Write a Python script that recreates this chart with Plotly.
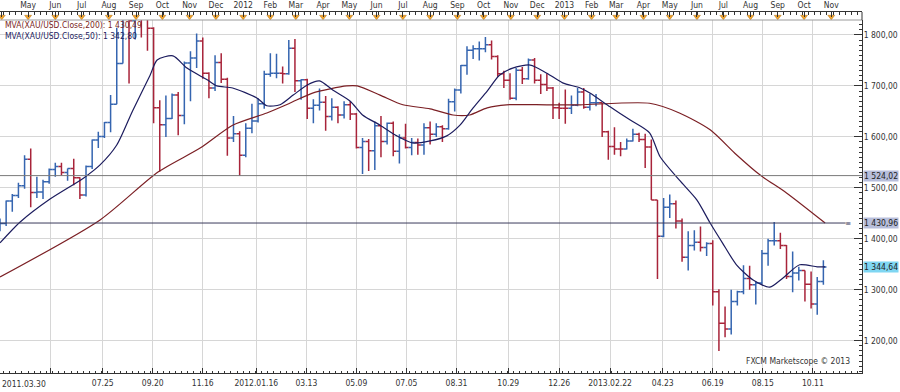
import pandas as pd
import plotly.graph_objects as go

# ---------------- data ----------------
# weekly OHLC of XAU/USD, first week starts 2011-03-28
OPEN = [1425, 1430, 1474, 1485, 1504, 1556, 1491, 1492, 1512, 1536, 1542, 1530, 1538, 1520, 1486, 1542, 1594, 1601, 1628, 1664,
        1744, 1852, 1828, 1876, 1856, 1813, 1657, 1624, 1636, 1682, 1642, 1745, 1755, 1788, 1725, 1696, 1746, 1713, 1598, 1606,
        1564, 1617, 1631, 1665, 1723, 1725, 1725, 1724, 1774, 1710, 1712, 1656, 1662, 1668, 1640, 1658, 1643, 1663, 1645, 1579,
        1591, 1573, 1622, 1591, 1627, 1572, 1598, 1579, 1589, 1584, 1618, 1605, 1620, 1616, 1669, 1692, 1740, 1770, 1773, 1773,
        1781, 1758, 1724, 1711, 1676, 1731, 1714, 1751, 1711, 1703, 1696, 1657, 1656, 1656, 1662, 1688, 1658, 1667, 1667, 1610,
        1581, 1576, 1576, 1592, 1605, 1595, 1580, 1476, 1405, 1462, 1469, 1435, 1364, 1387, 1393, 1383, 1391, 1296, 1234, 1223,
        1277, 1296, 1322, 1310, 1313, 1371, 1396, 1396, 1387, 1326, 1333, 1338, 1311, 1272, 1316]
HIGH = [1440, 1475, 1488, 1510, 1564, 1577, 1522, 1516, 1538, 1549, 1549, 1538, 1557, 1521, 1544, 1595, 1610, 1629, 1682, 1814,
        1877, 1912, 1892, 1921, 1857, 1815, 1672, 1681, 1685, 1688, 1748, 1768, 1803, 1795, 1727, 1760, 1764, 1716, 1641, 1611,
        1627, 1665, 1676, 1730, 1764, 1763, 1738, 1790, 1792, 1713, 1714, 1674, 1695, 1680, 1676, 1660, 1670, 1670, 1647, 1598,
        1596, 1630, 1641, 1628, 1630, 1605, 1626, 1598, 1597, 1627, 1630, 1627, 1623, 1675, 1695, 1741, 1778, 1780, 1787, 1796,
        1789, 1760, 1730, 1725, 1735, 1737, 1754, 1755, 1723, 1725, 1698, 1667, 1693, 1681, 1696, 1696, 1685, 1684, 1667, 1612,
        1619, 1590, 1597, 1616, 1608, 1606, 1595, 1476, 1480, 1487, 1475, 1440, 1415, 1417, 1424, 1393, 1397, 1301, 1267, 1300,
        1298, 1348, 1347, 1316, 1378, 1400, 1433, 1412, 1388, 1375, 1345, 1338, 1336, 1325, 1358]
LOW = [1415, 1425, 1453, 1480, 1498, 1462, 1480, 1478, 1508, 1522, 1524, 1514, 1505, 1478, 1483, 1537, 1578, 1598, 1609, 1664,
       1744, 1705, 1791, 1795, 1769, 1627, 1532, 1600, 1635, 1603, 1625, 1670, 1735, 1714, 1676, 1690, 1706, 1563, 1590, 1523,
       1560, 1607, 1628, 1655, 1718, 1715, 1705, 1722, 1688, 1673, 1635, 1627, 1652, 1612, 1632, 1627, 1636, 1633, 1577, 1527,
       1533, 1535, 1560, 1585, 1562, 1548, 1577, 1564, 1565, 1565, 1585, 1600, 1590, 1614, 1650, 1685, 1722, 1753, 1750, 1766,
       1752, 1718, 1696, 1673, 1672, 1704, 1712, 1705, 1684, 1690, 1635, 1635, 1626, 1645, 1660, 1655, 1652, 1660, 1600, 1555,
       1565, 1562, 1575, 1591, 1590, 1539, 1476, 1321, 1403, 1441, 1420, 1355, 1338, 1377, 1375, 1366, 1269, 1180, 1207, 1212,
       1269, 1291, 1300, 1271, 1311, 1347, 1387, 1380, 1321, 1295, 1318, 1277, 1263, 1251, 1310]
CLOSE = [1430, 1474, 1485, 1504, 1556, 1491, 1492, 1512, 1536, 1542, 1530, 1538, 1520, 1486, 1542, 1594, 1601, 1628, 1664, 1744,
         1852, 1828, 1876, 1856, 1813, 1657, 1624, 1636, 1682, 1642, 1745, 1755, 1788, 1725, 1696, 1746, 1713, 1598, 1606, 1564,
         1617, 1631, 1665, 1723, 1725, 1725, 1724, 1774, 1710, 1712, 1656, 1662, 1668, 1640, 1658, 1643, 1663, 1645, 1579, 1591,
         1573, 1622, 1591, 1627, 1572, 1598, 1579, 1589, 1584, 1618, 1605, 1620, 1616, 1669, 1692, 1740, 1770, 1773, 1773, 1781,
         1758, 1724, 1711, 1676, 1731, 1714, 1751, 1711, 1703, 1696, 1657, 1656, 1656, 1662, 1688, 1658, 1667, 1667, 1610, 1581,
         1576, 1576, 1592, 1605, 1595, 1580, 1476, 1405, 1462, 1469, 1435, 1364, 1387, 1393, 1383, 1391, 1296, 1234, 1223, 1277,
         1296, 1322, 1310, 1313, 1371, 1396, 1396, 1387, 1326, 1333, 1338, 1311, 1272, 1316, 1344.64]
FIRST_WEEK = "2011-03-28"

MA200_DATES = ["2011-03-30", "2011-07-22", "2011-09-26", "2011-11-13", "2011-12-20", "2012-01-28", "2012-02-23",
               "2012-03-20", "2012-04-28", "2012-05-10", "2012-06-05", "2012-07-01", "2012-08-01", "2012-08-27",
               "2012-09-15", "2012-10-05", "2012-10-27", "2012-12-12", "2013-01-19", "2013-04-08", "2013-05-12",
               "2013-06-16", "2013-07-16", "2013-08-12", "2013-09-11", "2013-10-25"]
MA200 = [1325, 1437, 1531, 1578, 1623, 1647, 1666, 1686, 1700, 1700, 1682, 1663, 1655, 1643,
         1643, 1657, 1663, 1663, 1663, 1666, 1647, 1614, 1565, 1525, 1490, 1431]

MA50_DATES = ["2011-03-30", "2011-04-22", "2011-05-26", "2011-07-03", "2011-07-22", "2011-08-10", "2011-08-28",
              "2011-09-17", "2011-09-25", "2011-10-13", "2011-10-29", "2011-11-21", "2011-12-02", "2011-12-20",
              "2012-01-17", "2012-01-28", "2012-02-12", "2012-02-27", "2012-03-14", "2012-03-28", "2012-04-12",
              "2012-05-02", "2012-05-16", "2012-06-05", "2012-06-24", "2012-07-12", "2012-08-01", "2012-08-20",
              "2012-09-04", "2012-09-19", "2012-10-05", "2012-10-19", "2012-11-03", "2012-11-23", "2012-12-12",
              "2012-12-30", "2013-01-19", "2013-01-30", "2013-02-22", "2013-03-17", "2013-04-08", "2013-04-20",
              "2013-05-12", "2013-06-01", "2013-06-16", "2013-06-30", "2013-07-16", "2013-08-04", "2013-08-23",
              "2013-09-07", "2013-09-26", "2013-10-16", "2013-10-25"]
MA50 = [1392, 1433, 1478, 1519, 1545, 1584, 1651, 1721, 1751, 1759, 1735, 1712, 1700, 1696,
        1676, 1661, 1663, 1682, 1702, 1710, 1692, 1670, 1643, 1623, 1602, 1588, 1592, 1602,
        1623, 1657, 1690, 1721, 1735, 1741, 1725, 1706, 1696, 1686, 1659, 1633, 1608, 1561,
        1515, 1476, 1431, 1392, 1349, 1319, 1305, 1323, 1349, 1345, 1345]

LEVELS = [1524.02, 1430.96]
LAST_PRICE = 1344.64
LEGEND_TEXT = ["MVA(XAU/USD.Close,200): 1 430,49", "MVA(XAU/USD.Close,50): 1 342,80"]

Y_TICKS = [1200, 1300, 1400, 1500, 1600, 1700, 1800]
Y_TICK_TEXT = ["1 200,00", "1 300,00", "1 400,00", "1 500,00", "1 600,00", "1 700,00", "1 800,00"]

MONTH_TICKS = ["2011-04-01", "2011-05-01", "2011-06-01", "2011-07-01", "2011-08-01", "2011-09-01", "2011-10-01",
               "2011-11-01", "2011-12-01", "2012-01-01", "2012-02-01", "2012-03-01", "2012-04-01", "2012-05-01",
               "2012-06-01", "2012-07-01", "2012-08-01", "2012-09-01", "2012-10-01", "2012-11-01", "2012-12-01",
               "2013-01-01", "2013-02-01", "2013-03-01", "2013-04-01", "2013-05-01", "2013-06-01", "2013-07-01",
               "2013-08-01", "2013-09-01", "2013-10-01", "2013-11-01"]
MONTH_LABELS = ["", "May", "Jun", "Jul", "Aug", "Sep", "Oct", "Nov", "Dec", "2012", "Feb", "Mar", "Apr", "May",
                "Jun", "Jul", "Aug", "Sep", "Oct", "Nov", "Dec", "2013", "Feb", "Mar", "Apr", "May", "Jun", "Jul",
                "Aug", "Sep", "Oct", "Nov"]

DATE_TICKS = ["2011-05-27", "2011-07-25", "2011-09-20", "2011-11-16", "2012-01-16", "2012-03-13", "2012-05-09",
              "2012-07-05", "2012-08-31", "2012-10-29", "2012-12-26", "2013-02-22", "2013-04-23", "2013-06-19",
              "2013-08-15", "2013-10-11"]
DATE_LABELS = ["", "07.25", "09.20", "11.16", "2012.01.16", "03.13", "05.09", "07.05", "08.31", "10.29", "12.26",
               "2013.02.22", "04.23", "06.19", "08.15", "10.11"]
FIRST_LABEL = "2011.03.30"
X_RANGE = ["2011-03-30", "2013-12-06"]
Y_RANGE = [1136.6, 1829.4]

# ---------------- styling ----------------
FONT = "DejaVu Sans Condensed, DejaVu Sans"
UP = "#3565b0"
DOWN = "#a8243a"
MA200_COLOR = "#7b1f24"
MA50_COLOR = "#1c1c5e"
GRID = "#d6d6d6"
AXIS = "#333333"


def fmt(v):
    return f"{v:,.2f}".replace(",", " ").replace(".", ",")


weeks = pd.date_range(FIRST_WEEK, periods=len(CLOSE), freq="W-MON") + pd.Timedelta(days=2)

fig = go.Figure()
fig.add_trace(go.Ohlc(
    x=weeks, open=OPEN, high=HIGH, low=LOW, close=CLOSE,
    increasing=dict(line=dict(color=UP, width=1.5)),
    decreasing=dict(line=dict(color=DOWN, width=1.5)),
    tickwidth=0.5, xaxis="x", yaxis="y", hoverinfo="skip"))
fig.add_trace(go.Scatter(x=MA200_DATES, y=MA200, mode="lines", xaxis="x", yaxis="y",
                         line=dict(color=MA200_COLOR, width=1.2, shape="spline", smoothing=0.7), hoverinfo="skip"))
fig.add_trace(go.Scatter(x=MA50_DATES, y=MA50, mode="lines", xaxis="x", yaxis="y",
                         line=dict(color=MA50_COLOR, width=1.2, shape="spline", smoothing=0.7), hoverinfo="skip"))
# month markers on the top ruler
fig.add_trace(go.Scatter(x=MONTH_TICKS, y=[0.4] * len(MONTH_TICKS), mode="markers", xaxis="x2", yaxis="y2",
                         marker=dict(symbol="triangle-down", size=6, color="#f2a22a", line=dict(width=0.5, color="#b07010")),
                         cliponaxis=False, hoverinfo="skip"))

PLOT_H = 373.0
top_frac = (PLOT_H - 20) / PLOT_H
ruler_frac = (PLOT_H - 12) / PLOT_H

fig.update_layout(
    width=900, height=392,
    margin=dict(l=0, r=38, t=0, b=19),
    paper_bgcolor="white", plot_bgcolor="white",
    showlegend=False,
    font=dict(family=FONT, size=8, color=AXIS),
    xaxis=dict(type="date", range=X_RANGE, domain=[0, 1], anchor="y",
               tickmode="array", tickvals=DATE_TICKS, ticktext=DATE_LABELS,
               showgrid=True, gridcolor=GRID, gridwidth=1,
               ticks="inside", ticklen=5, tickcolor=AXIS, showline=True, linecolor=AXIS, linewidth=1,
               minor=dict(ticks="inside", ticklen=2, tickcolor=AXIS, dtick=7 * 86400000, showgrid=False),
               rangeslider=dict(visible=False), tickfont=dict(size=8.5, color=AXIS), ticklabelstandoff=2,
               automargin=False),
    yaxis=dict(domain=[0, top_frac], range=Y_RANGE, side="right", anchor="x",
               tickmode="array", tickvals=Y_TICKS, ticktext=Y_TICK_TEXT,
               showgrid=True, gridcolor=GRID, gridwidth=1, zeroline=False,
               ticks="inside", ticklen=8, tickcolor=AXIS, showline=True, linecolor=AXIS, linewidth=1,
               minor=dict(ticks="inside", ticklen=3, tickcolor=AXIS, dtick=10, showgrid=False),
               tickfont=dict(size=8.5, color=AXIS), ticklabelstandoff=-1, automargin=False),
    xaxis2=dict(type="date", range=X_RANGE, domain=[0, 1], anchor="y2", side="top",
                tickmode="array", tickvals=MONTH_TICKS, ticktext=MONTH_LABELS,
                showgrid=False, ticks="inside", ticklen=5, tickcolor=AXIS,
                showline=True, linecolor=AXIS, linewidth=1,
                minor=dict(ticks="inside", ticklen=3, tickcolor=AXIS, dtick=7 * 86400000, showgrid=False),
                tickfont=dict(size=8.5, color=AXIS), automargin=False),
    yaxis2=dict(domain=[top_frac, ruler_frac], range=[0, 1], anchor="x2", visible=False, fixedrange=True),
)

shapes = [
    dict(type="line", xref="paper", yref="paper", x0=0, x1=1, y0=top_frac, y1=top_frac,
         line=dict(color="#9a9a9a", width=1)),
    dict(type="line", xref="paper", yref="paper", x0=1, x1=1, y0=top_frac, y1=ruler_frac,
         line=dict(color=AXIS, width=1)),
    dict(type="line", xref="paper", yref="y", x0=0, x1=1, y0=LEVELS[0], y1=LEVELS[0],
         line=dict(color="#7a7a7a", width=1)),
    dict(type="line", xref="paper", yref="y", x0=0, x1=0.981, y0=LEVELS[1], y1=LEVELS[1],
         line=dict(color="#3a3a5c", width=1)),
]
fig.update_layout(shapes=shapes)

annotations = [
    dict(text=LEGEND_TEXT[0], xref="paper", yref="paper", x=0.003, y=(PLOT_H - 25) / PLOT_H,
         xanchor="left", yanchor="middle", showarrow=False, font=dict(size=8.5, color=MA200_COLOR, family=FONT)),
    dict(text=LEGEND_TEXT[1], xref="paper", yref="paper", x=0.003, y=(PLOT_H - 36) / PLOT_H,
         xanchor="left", yanchor="middle", showarrow=False, font=dict(size=8.5, color=MA50_COLOR, family=FONT)),
    dict(text="FXCM Marketscope © 2013", xref="paper", yref="paper", x=852 / 862, y=(PLOT_H - 361) / PLOT_H,
         xanchor="right", yanchor="middle", showarrow=False, font=dict(size=8.5, color="#333333", family=FONT)),
    dict(text=FIRST_LABEL, xref="paper", yref="paper", x=0, y=0, xanchor="left", yanchor="top", yshift=-4,
         showarrow=False, font=dict(size=8.5, color=AXIS, family=FONT)),
    dict(text="≡", xref="paper", yref="y", x=848 / 862, y=LEVELS[1], xanchor="center", yanchor="middle",
         showarrow=False, font=dict(size=8, color="#3a3a5c", family=FONT)),
]
for val, bg in [(LEVELS[0], "#b7bedb"), (LEVELS[1], "#b7bedb"), (LAST_PRICE, "#7fd6f2")]:
    annotations.append(dict(text=fmt(val), xref="paper", yref="y", x=1, y=val, xanchor="left", yanchor="middle",
                            xshift=1, showarrow=False, bgcolor=bg, borderpad=0,
                            font=dict(size=8.5, color="#222222", family=FONT)))
fig.update_layout(annotations=annotations)

fig.write_html("out.html", config={"displayModeBar": False},
               post_script="document.body.style.margin='0';")
